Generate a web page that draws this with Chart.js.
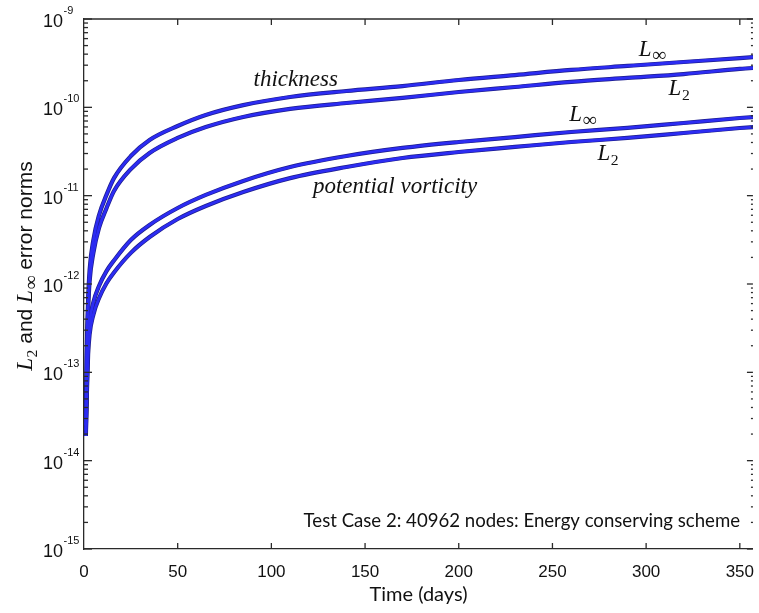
<!DOCTYPE html>
<html>
<head>
<meta charset="utf-8">
<title>Error norms</title>
<script src="https://cdn.jsdelivr.net/npm/chart.js"></script>
<style>
    body { margin: 0; background: #fff; }
    canvas { display: block; }
</style>
</head>
<body>
<canvas id="normsChart" width="759" height="613"></canvas>
<script>
// time samples (days)
const days = [1, 1.5, 2.2, 3, 5, 8, 12, 16, 25, 35, 50, 65, 85, 110, 140, 170, 200, 230, 260, 290, 320, 350, 365];

const thicknessLinf = [2.9e-14, 1.79e-13, 6.6e-13, 1.44e-12, 3.15e-12, 6.0e-12, 1.02e-11, 1.58e-11, 2.81e-11, 4.27e-11,
    6.15e-11, 8.2e-11, 1.06e-10, 1.31e-10, 1.53e-10, 1.74e-10, 2.04e-10, 2.32e-10, 2.65e-10, 2.94e-10, 3.26e-10, 3.61e-10, 3.81e-10];
const thicknessL2 = [2.5e-14, 1.45e-13, 5.1e-13, 1.08e-12, 2.25e-12, 4.3e-12, 7.2e-12, 1.13e-11, 2.0e-11, 3.04e-11,
    4.5e-11, 5.98e-11, 7.78e-11, 9.6e-11, 1.12e-10, 1.28e-10, 1.49e-10, 1.70e-10, 1.94e-10, 2.15e-10, 2.38e-10, 2.72e-10, 2.86e-10];
const pvLinf = [2.2e-14, 7.0e-14, 2.2e-13, 3.7e-13, 6.2e-13, 9.5e-13, 1.4e-12, 1.85e-12, 3.15e-12, 4.66e-12,
    7.25e-12, 1.02e-11, 1.47e-11, 2.11e-11, 2.81e-11, 3.47e-11, 4.05e-11, 4.61e-11, 5.26e-11, 5.84e-11, 6.65e-11, 7.57e-11, 7.98e-11];
const pvL2 = [1.9e-14, 5.5e-14, 1.6e-13, 2.7e-13, 4.5e-13, 6.9e-13, 1.02e-12, 1.35e-12, 2.25e-12, 3.4e-12,
    5.44e-12, 7.64e-12, 1.10e-11, 1.58e-11, 2.11e-11, 2.67e-11, 3.12e-11, 3.56e-11, 4.05e-11, 4.5e-11, 5.12e-11, 5.83e-11, 6.15e-11];

const xTicks = [0, 50, 100, 150, 200, 250, 300, 350];
const yExponents = [-15, -14, -13, -12, -11, -10, -9];

const series = [thicknessLinf, thicknessL2, pvLinf, pvL2];

// each curve twice: blue core (first = drawn on top) and dark outline
const datasets = [];
series.forEach(values => {
    const pts = days.map((d, i) => ({ x: d, y: values[i] }));
    datasets.push({ data: pts, borderColor: '#2c2cf2', borderWidth: 2.8 });
});
series.forEach(values => {
    const pts = days.map((d, i) => ({ x: d, y: values[i] }));
    datasets.push({ data: pts, borderColor: '#1c1c8a', borderWidth: 4.2 });
});

const serif = '"Liberation Serif", "DejaVu Serif", serif';
const sans = '"Liberation Sans", Arial, sans-serif';
const gill = 'Lato, "Open Sans", sans-serif';

// draws L with a subscript, left edge at x, baseline at y; returns width
function drawNorm(ctx, x, y, sub, size) {
    ctx.font = 'italic ' + size + 'px ' + serif;
    ctx.textAlign = 'left';
    ctx.textBaseline = 'alphabetic';
    ctx.fillText('L', x, y);
    const w = ctx.measureText('L').width;
    const subSize = sub === '∞' ? size * 0.85 : size * 0.68;
    ctx.font = subSize + 'px ' + serif;
    ctx.fillText(sub, x + w + 0.5, y + size * 0.22);
    return w + 0.5 + ctx.measureText(sub).width;
}

const annotations = {
    id: 'annotations',
    afterDraw(chart) {
        const { ctx, chartArea: a, scales: { x, y } } = chart;
        ctx.save();
        ctx.strokeStyle = '#2a2a2a';
        ctx.lineWidth = 1.3;
        const seg = (x1, y1, x2, y2) => {
            ctx.beginPath(); ctx.moveTo(x1, y1); ctx.lineTo(x2, y2); ctx.stroke();
        };

        // top frame line and inward ticks
        seg(a.left, a.top, a.right, a.top);
        xTicks.forEach(v => {
            if (v === 0) return;
            const px = x.getPixelForValue(v);
            seg(px, a.bottom, px, a.bottom - 6);
            seg(px, a.top, px, a.top + 6);
        });

        // y ticks (major + minor) and 10^n labels
        ctx.fillStyle = '#111';
        yExponents.forEach(e => {
            const base = Math.pow(10, e);
            const py = y.getPixelForValue(base);
            seg(a.left, py, a.left + 8, py);
            seg(a.right - 6, py, a.right, py);
            if (e < -9) {
                for (let m = 2; m <= 9; m++) {
                    const pm = y.getPixelForValue(m * base);
                    seg(a.left, pm, a.left + 4, pm);
                    seg(a.right - 2, pm, a.right, pm);
                }
            }
            ctx.font = '18px ' + sans;
            ctx.textAlign = 'right';
            ctx.textBaseline = 'middle';
            ctx.fillText('10', 63, py + 3);
            ctx.font = '11px ' + sans;
            ctx.textAlign = 'left';
            ctx.fillText('-' + (-e), 63.5, py - 8);
        });

        // curve labels
        ctx.font = 'italic 23px ' + serif;
        ctx.textAlign = 'center';
        ctx.textBaseline = 'middle';
        ctx.fillText('thickness', x.getPixelForValue(113), y.getPixelForValue(2.04e-10));
        ctx.fillText('potential vorticity', x.getPixelForValue(166), y.getPixelForValue(1.25e-11));
        drawNorm(ctx, x.getPixelForValue(296), y.getPixelForValue(3.81e-10), '∞', 23);
        drawNorm(ctx, x.getPixelForValue(312), y.getPixelForValue(1.38e-10), '2', 23);
        drawNorm(ctx, x.getPixelForValue(259), y.getPixelForValue(7.0e-11), '∞', 23);
        drawNorm(ctx, x.getPixelForValue(274), y.getPixelForValue(2.54e-11), '2', 23);

        // case note
        ctx.font = '18.6px ' + gill;
        ctx.textAlign = 'right';
        ctx.textBaseline = 'middle';
        ctx.fillText('Test Case 2: 40962 nodes: Energy conserving scheme', 740, 521);

        // rotated y title: L2 and Loo error norms
        ctx.translate(25, 266);
        ctx.rotate(-Math.PI / 2);
        const tSize = 21, lSize = 23;
        ctx.font = tSize + 'px ' + sans;
        const wAnd = ctx.measureText(' and ').width;
        const wErr = ctx.measureText(' error norms').width;
        ctx.font = 'italic ' + lSize + 'px ' + serif;
        const wL = ctx.measureText('L').width;
        ctx.font = (lSize * 0.68) + 'px ' + serif;
        const w2 = ctx.measureText('2').width;
        ctx.font = (lSize * 0.85) + 'px ' + serif;
        const wInf = ctx.measureText('∞').width;
        const total = 2 * (wL + 0.5) + w2 + wInf + wAnd + wErr;
        let cx = -total / 2;
        const base = 7;
        cx += drawNorm(ctx, cx, base, '2', lSize);
        ctx.font = tSize + 'px ' + sans;
        ctx.textAlign = 'left';
        ctx.fillText(' and ', cx, base);
        cx += wAnd;
        cx += drawNorm(ctx, cx, base, '∞', lSize);
        ctx.font = tSize + 'px ' + sans;
        ctx.textAlign = 'left';
        ctx.fillText(' error norms', cx, base);
        ctx.restore();
    }
};

new Chart(document.getElementById('normsChart'), {
    type: 'line',
    data: { datasets },
    options: {
        responsive: false,
        devicePixelRatio: 1,
        animation: false,
        layout: { padding: { top: 19, right: 0, left: 0, bottom: 0 } },
        elements: {
            point: { radius: 0 },
            line: { cubicInterpolationMode: 'monotone' }
        },
        plugins: {
            legend: { display: false },
            tooltip: { enabled: false }
        },
        scales: {
            x: {
                type: 'linear',
                min: 0,
                max: 357,
                afterBuildTicks: scale => { scale.ticks = xTicks.map(v => ({ value: v })); },
                afterFit: scale => { scale.height = 64; },
                grid: { display: false },
                border: { display: true, color: '#2a2a2a', width: 1.3 },
                ticks: {
                    padding: 5,
                    color: '#111',
                    maxRotation: 0,
                    font: { family: sans, size: 17 }
                },
                title: {
                    display: true,
                    text: 'Time (days)',
                    color: '#111',
                    font: { family: gill, size: 20 },
                    padding: { top: 0, bottom: 6 }
                }
            },
            y: {
                type: 'logarithmic',
                min: 1e-15,
                max: 1e-9,
                afterFit: scale => { scale.width = 84; },
                grid: { display: false },
                border: { display: true, color: '#2a2a2a', width: 1.3 },
                ticks: { display: false }
            }
        }
    },
    plugins: [annotations]
});
</script>
</body>
</html>
